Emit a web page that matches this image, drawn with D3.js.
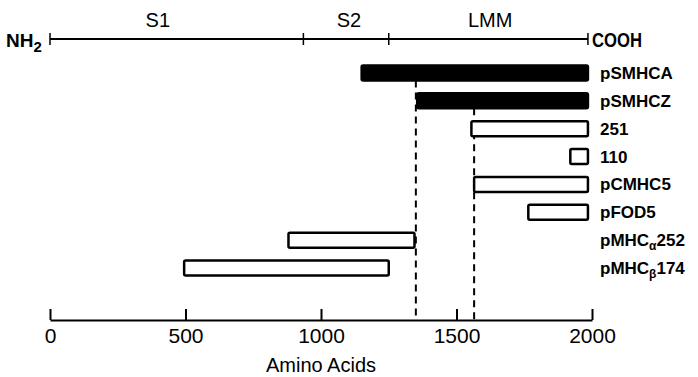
<!DOCTYPE html>
<html lang="en">
<head>
<meta charset="UTF-8">
<script src="https://d3js.org/d3.v7.min.js"></script>
<style>
  body { margin: 0; background: #fff; }
  text { fill: #000; font-family: "Liberation Sans", Arial, sans-serif; }
</style>
</head>
<body>
<div id="chart"></div>
<script>
// Data (amino acid positions)
const clones = ["pSMHCA", "pSMHCZ", "251", "110", "pCMHC5", "pFOD5", "pMHCa252", "pMHCb174"];
const cloneStart = [1150, 1355, 1555, 1920, 1565, 1765, 880, 495];
const cloneEnd = [1985, 1985, 1985, 1985, 1985, 1985, 1345, 1250];
const cloneFilled = [true, true, false, false, false, false, false, false];
// label pieces: main text, greek subscript, trailing text
const labelMain = ["pSMHCA", "pSMHCZ", "251", "110", "pCMHC5", "pFOD5", "pMHC", "pMHC"];
const labelSub = ["", "", "", "", "", "", "α", "β"];
const labelTail = ["", "", "", "", "", "", "252", "174"];

const domainEnds = [0, 1985];
const domainBreaks = [935, 1250];
const domainNames = ["S1", "S2", "LMM"];
const domainLabelPos = [398, 1103, 1624];

const dashedAt = [1350, 1565];
const dashedFromRow = ["pSMHCA", "pSMHCZ"];

const axisTicks = [0, 500, 1000, 1500, 2000];

const width = 698;
const height = 377;

const svg = d3.select("#chart")
    .append("svg")
    .attr("width", width)
    .attr("height", height);

const x = d3.scaleLinear()
    .domain([0, 2000])
    .range([50, 592]);

const y = d3.scaleBand()
    .domain(clones)
    .range([59, 282])
    .paddingInner(0.46)
    .paddingOuter(0.23);

const axisY = 320;

// Top schematic line (NH2 ... COOH)
const topY = 39;
svg.append("line")
    .attr("x1", x(domainEnds[0]))
    .attr("x2", x(domainEnds[1]))
    .attr("y1", topY)
    .attr("y2", topY)
    .attr("stroke", "#000")
    .attr("stroke-width", 2);

svg.selectAll(".endtick")
    .data(domainEnds.concat(domainBreaks))
    .join("line")
    .attr("class", "endtick")
    .attr("x1", d => x(d))
    .attr("x2", d => x(d))
    .attr("y1", topY - 6)
    .attr("y2", topY + 6)
    .attr("stroke", "#000")
    .attr("stroke-width", 1.5);

svg.selectAll(".domname")
    .data(domainNames)
    .join("text")
    .attr("class", "domname")
    .attr("x", (d, i) => x(domainLabelPos[i]))
    .attr("y", 27)
    .attr("text-anchor", "middle")
    .style("font-size", "20px")
    .text(d => d);

const nh = svg.append("text")
    .attr("x", 6)
    .attr("y", 47)
    .style("font-size", "19px")
    .style("font-weight", "bold");
nh.append("tspan").text("NH");
nh.append("tspan").attr("dy", 5).style("font-size", "15px").text("2");

// condensed look of the original lettering
svg.append("text")
    .attr("x", x(domainEnds[1]) + 4)
    .attr("y", 47)
    .attr("textLength", 50)
    .attr("lengthAdjust", "spacingAndGlyphs")
    .style("font-size", "20px")
    .style("font-weight", "bold")
    .text("COOH");

// Dashed guide lines
svg.selectAll(".guide")
    .data(dashedAt)
    .join("line")
    .attr("class", "guide")
    .attr("x1", d => x(d))
    .attr("x2", d => x(d))
    .attr("y1", (d, i) => y(dashedFromRow[i]) + y.bandwidth())
    .attr("y2", axisY)
    .attr("stroke", "#000")
    .attr("stroke-width", 2)
    .attr("stroke-dasharray", "7,5");

// Clone bars
svg.selectAll(".clone")
    .data(clones)
    .join("rect")
    .attr("class", "clone")
    .attr("x", (d, i) => x(cloneStart[i]))
    .attr("y", d => y(d))
    .attr("width", (d, i) => x(cloneEnd[i]) - x(cloneStart[i]))
    .attr("height", y.bandwidth())
    .attr("rx", 1.5)
    .attr("fill", (d, i) => cloneFilled[i] ? "#000" : "#fff")
    .attr("stroke", "#000")
    .attr("stroke-width", 2.5);

// Clone labels
svg.selectAll(".label")
    .data(clones)
    .join("text")
    .attr("class", "label")
    .attr("x", 600)
    .attr("y", d => y(d) + y.bandwidth() / 2 + 6)
    .style("font-size", "17px")
    .style("font-weight", "bold")
    .each(function (d, i) {
        const t = d3.select(this);
        t.append("tspan").text(labelMain[i]);
        if (labelSub[i]) {
            t.append("tspan").attr("dy", 4).style("font-size", "12px").text(labelSub[i]);
            t.append("tspan").attr("dy", -4).text(labelTail[i]);
        }
    });

// Bottom axis
const axisG = svg.append("g")
    .attr("transform", `translate(0, ${axisY})`)
    .call(d3.axisBottom(x)
        .tickValues(axisTicks)
        .tickFormat(d3.format("d"))
        .tickSizeInner(-11)
        .tickSizeOuter(0)
        .tickPadding(8));

axisG.select(".domain").attr("stroke-width", 2);
axisG.selectAll(".tick line").attr("stroke-width", 2);
axisG.selectAll(".tick text")
    .style("font-family", "'Liberation Sans', Arial, sans-serif")
    .style("font-size", "21px");

svg.append("text")
    .attr("x", x(1000))
    .attr("y", 372)
    .attr("text-anchor", "middle")
    .style("font-size", "20px")
    .text("Amino Acids");
</script>
</body>
</html>
